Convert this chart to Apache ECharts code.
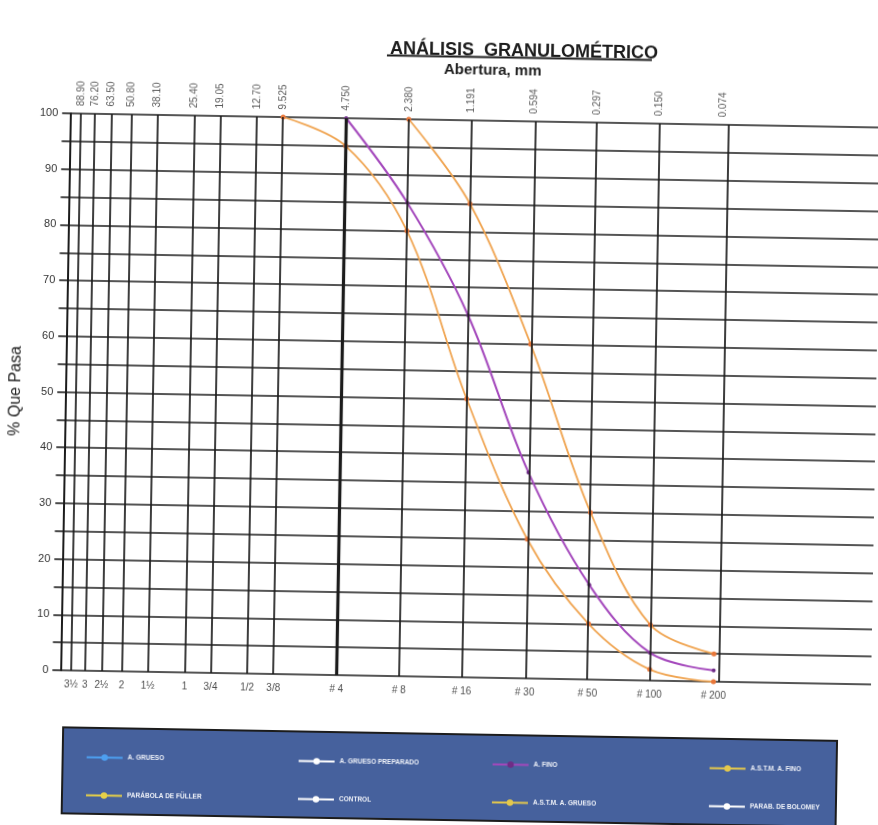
<!DOCTYPE html>
<html>
<head>
<meta charset="utf-8">
<title>Análisis granulométrico</title>
<script src="https://cdn.jsdelivr.net/npm/echarts@6/dist/echarts.min.js"></script>
<style>
  html, body { margin: 0; padding: 0; background: #ffffff; overflow: hidden; }
  /* the sheet sits slightly askew on the page */
  #chart { width: 878px; height: 825px; transform: rotate(1deg); transform-origin: 390px 396px; }
</style>
</head>
<body>
<div id="chart"></div>
<script>
// Sieve openings (mm) and their names
const sieveMm = [88.9, 76.2, 63.5, 50.8, 38.1, 25.4, 19.05, 12.7, 9.525, 4.75, 2.38, 1.191, 0.594, 0.297, 0.150, 0.074];
const openingLabels = ['88.90', '76.20', '63.50', '50.80', '38.10', '25.40', '19.05', '12.70', '9.525', '4.750', '2.380', '1.191', '0.594', '0.297', '0.150', '0.074'];
const sieveNames = ['3½', '3', '2½', '2', '1½', '1', '3/4', '1/2', '3/8', '# 4', '# 8', '# 16', '# 30', '# 50', '# 100', '# 200'];

// Fine aggregate passing (%)
const fineSieves = [4.75, 2.38, 1.191, 0.594, 0.297, 0.150, 0.074];
const finePassing = [100, 85, 65, 37, 17, 5, 2];

// ASTM limits for fine aggregate (%)
const astmLowerSieves = [9.525, 4.75, 2.38, 1.191, 0.594, 0.297, 0.150, 0.074];
const astmLower = [100, 95, 80, 50, 25, 10, 2, 0];
const astmUpperSieves = [2.38, 1.191, 0.594, 0.297, 0.150, 0.074];
const astmUpper = [100, 85, 60, 30, 10, 5];

const pairs = (xs, ys) => xs.map((x, i) => [x, ys[i]]);

const INK = '#1c1c1c';
const ORANGE = '#f0a552';
const ORANGE_DOT = '#e8773a';

const chart = echarts.init(document.getElementById('chart'), null, { renderer: 'canvas' });

const emptySeries = (name, color) => ({
  name, type: 'line', data: [], symbol: 'circle', symbolSize: 3,
  lineStyle: { color, width: 2 }, itemStyle: { color }
});

const legendBase = {
  orient: 'vertical', top: 754, itemWidth: 36, itemHeight: 8, itemGap: 31,
  selectedMode: false,
  textStyle: { color: '#eef1f8', fontSize: 6.5, fontWeight: 'bold', fontFamily: 'Liberation Sans' }
};

chart.setOption({
  animation: false,
  backgroundColor: '#ffffff',
  textStyle: { fontFamily: 'Liberation Sans' },
  title: [
    { text: 'ANÁLISIS  GRANULOMÉTRICO', left: 513, top: 35, textAlign: 'center',
      textStyle: { fontSize: 18, fontWeight: 'bold', color: INK, fontFamily: 'Liberation Sans' } },
    { text: 'Abertura, mm', left: 482, top: 56, textAlign: 'center',
      textStyle: { fontSize: 15, fontWeight: 'bold', color: INK, fontFamily: 'Liberation Sans' } }
  ],
  graphic: [
    { type: 'line', shape: { x1: 381, y1: 55.5, x2: 646, y2: 55.5 }, style: { stroke: INK, lineWidth: 1.8 } },
    { type: 'rect', shape: { x: 69, y: 733, width: 774, height: 86 }, z: -1,
      style: { fill: '#46619d', stroke: INK, lineWidth: 2 } }
  ],
  legend: [
    Object.assign({ left: 87, data: ['A. GRUESO', 'PARÁBOLA DE FÜLLER'] }, legendBase),
    Object.assign({ left: 299, data: ['A. GRUESO PREPARADO', 'CONTROL'] }, legendBase),
    Object.assign({ left: 493, data: ['A. FINO', 'A.S.T.M. A. GRUESO'] }, legendBase),
    Object.assign({ left: 710, data: [
      { name: 'A.S.T.M. A. FINO', lineStyle: { color: '#e4c84c' }, itemStyle: { color: '#e4c84c' } },
      'PARAB. DE BOLOMEY'] }, legendBase)
  ],
  // log scale from 100 mm on the left down to about 0.013 mm at the right edge
  grid: { left: 63, right: 2, top: 119, bottom: 149, containLabel: false },
  xAxis: {
    type: 'log', logBase: 10, inverse: true, min: 0.013, max: 100,
    axisLine: { show: false }, axisTick: { show: false },
    axisLabel: { show: false }, splitLine: { show: false }
  },
  yAxis: {
    type: 'value', min: 0, max: 100, interval: 5,
    name: '% Que Pasa', nameLocation: 'middle', nameGap: 38,
    nameTextStyle: { fontSize: 16, color: '#222', fontFamily: 'Liberation Sans' },
    axisLine: { show: true, lineStyle: { color: INK, width: 2 } },
    axisTick: { show: true, length: 8, lineStyle: { color: INK, width: 1.6 } },
    axisLabel: { fontSize: 11, color: '#333', margin: 12,
      formatter: v => (v % 10 === 0 ? String(v) : '') },
    splitLine: { show: true, lineStyle: { color: INK, width: 1.7 } }
  },
  series: [
    // sieve grid lines and the opening labels above the plot
    {
      type: 'scatter', silent: true, z: 1,
      data: sieveMm.map(v => [v, 100]),
      symbolSize: 1, itemStyle: { color: 'rgba(0,0,0,0)' },
      label: { show: true, position: 'top', distance: 7, rotate: 90, align: 'left', verticalAlign: 'middle',
        fontSize: 10, color: '#333', formatter: p => openingLabels[p.dataIndex] },
      markLine: {
        silent: true, symbol: ['none', 'none'], label: { show: false },
        lineStyle: { color: INK, width: 1.7, type: 'solid' },
        data: sieveMm.map(v => ({ xAxis: v, lineStyle: { width: v === 4.75 ? 3.2 : 1.7 } }))
      }
    },
    // sieve names under the plot
    {
      type: 'scatter', silent: true, z: 1,
      data: sieveMm.map(v => [v, 0]),
      symbolSize: 1, itemStyle: { color: 'rgba(0,0,0,0)' },
      label: { show: true, position: 'bottom', distance: 9, fontSize: 10, color: '#222',
        formatter: p => sieveNames[p.dataIndex] }
    },
    emptySeries('A. GRUESO', '#4d9ff0'),
    emptySeries('A. GRUESO PREPARADO', '#ffffff'),
    {
      name: 'A. FINO', type: 'line', smooth: 0.35, z: 4,
      data: pairs(fineSieves, finePassing),
      symbol: 'circle', symbolSize: 4,
      lineStyle: { color: '#a448bc', width: 2 },
      itemStyle: { color: '#6e2c86' }
    },
    {
      name: 'A.S.T.M. A. FINO', type: 'line', smooth: 0.35, z: 3,
      data: pairs(astmLowerSieves, astmLower),
      symbol: 'circle', symbolSize: 5,
      lineStyle: { color: ORANGE, width: 1.8 },
      itemStyle: { color: ORANGE_DOT }
    },
    {
      name: 'A.S.T.M. A. FINO', type: 'line', smooth: 0.35, z: 3,
      data: pairs(astmUpperSieves, astmUpper),
      symbol: 'circle', symbolSize: 5,
      lineStyle: { color: ORANGE, width: 1.8 },
      itemStyle: { color: ORANGE_DOT }
    },
    emptySeries('PARÁBOLA DE FÜLLER', '#e6d048'),
    emptySeries('CONTROL', '#ffffff'),
    emptySeries('A.S.T.M. A. GRUESO', '#e4c84c'),
    emptySeries('PARAB. DE BOLOMEY', '#ffffff')
  ]
});
</script>
</body>
</html>
